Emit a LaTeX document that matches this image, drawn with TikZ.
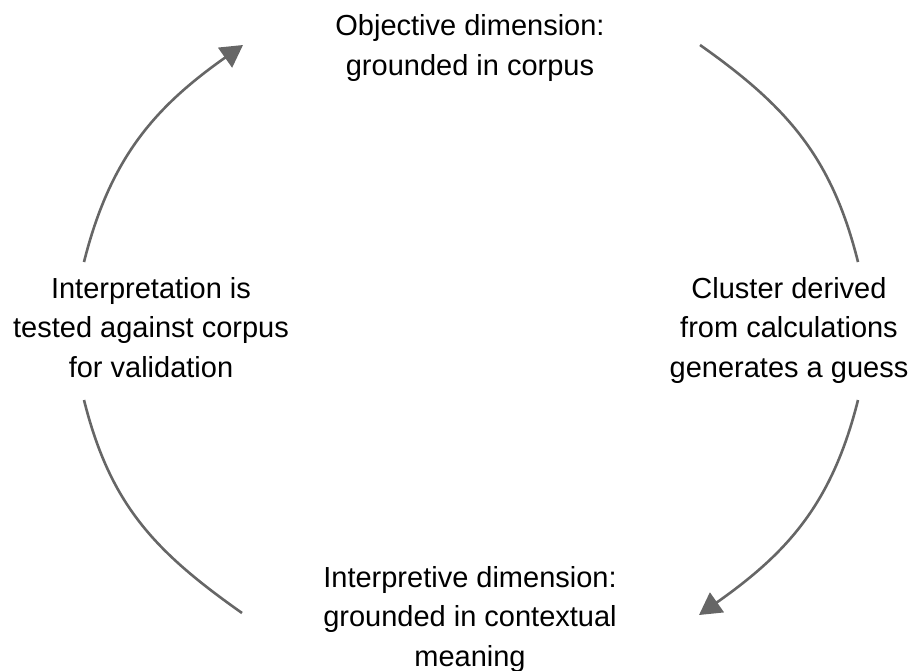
\documentclass[tikz,border=0pt]{standalone}
\usepackage{fontspec}
\setmainfont{Liberation Sans}
\usetikzlibrary{arrows.meta}
\definecolor{arrowgray}{HTML}{666666}
\tikzset{
  label text/.style={font=\fontsize{29}{39.5}\selectfont, align=center, inner sep=0pt, anchor=base, text=black},
  cycle line/.style={draw=arrowgray, line width=2.6pt},
  cycle arrow/.style={cycle line, -{Triangle[length=22pt,width=24pt]}},
}
\begin{document}
\begin{tikzpicture}[x=1pt,y=-1pt]
\useasboundingbox (0,0) rectangle (912,670);
% anchor=base is the baseline of the last line
\node[label text] (top) at (470,75) {Objective dimension:\\grounded in corpus};
\node[label text] (right) at (789,377) {Cluster derived\\from calculations\\generates a guess};
\node[label text] (bottom) at (470,666) {Interpretive dimension:\\grounded in contextual\\meaning};
\node[label text] (left) at (151,377) {Interpretation is\\tested against corpus\\for validation};
% connector end points
\coordinate (l1) at (84,262);   \coordinate (t0) at (243,45);
\coordinate (t1) at (700,45);   \coordinate (r0) at (858,262);
\coordinate (r1) at (858,400);  \coordinate (b0) at (699,615);
\coordinate (b1) at (242,613);  \coordinate (l0) at (84,400);
\draw[cycle arrow] (l1) .. controls (110,158) and (155,107) .. (t0);
\draw[cycle line]  (t1) .. controls (788,107) and (832,158) .. (r0);
\draw[cycle arrow] (r1) .. controls (832,504) and (787,553) .. (b0);
\draw[cycle line]  (b1) .. controls (154,551) and (110,504) .. (l0);
\end{tikzpicture}
\end{document}
